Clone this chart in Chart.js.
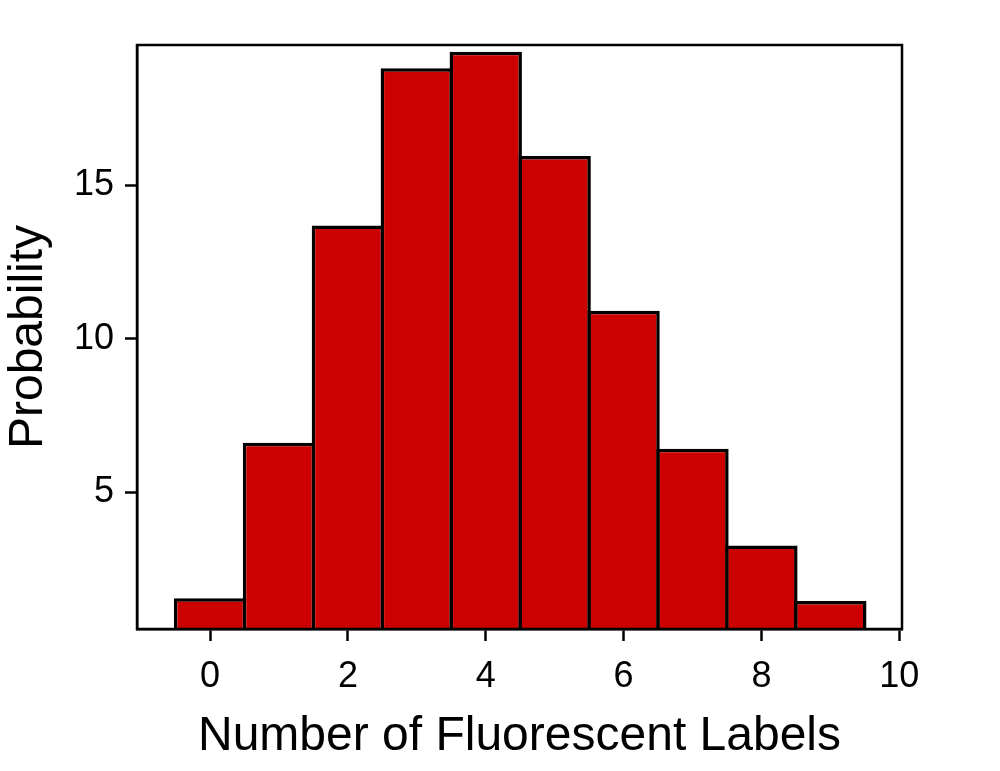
<!DOCTYPE html>
<html>
<head>
<meta charset="utf-8">
<title>Number of Fluorescent Labels</title>
<script src="https://cdn.jsdelivr.net/npm/chart.js@4"></script>
<style>
  html, body { margin: 0; padding: 0; background: #fff; }
  #wrap { width: 1000px; height: 771px; position: relative; }
</style>
</head>
<body>
<div id="wrap"><canvas id="myChart"></canvas></div>
<script>
// Histogram values
const labelCounts = [0, 1, 2, 3, 4, 5, 6, 7, 8, 9];
const probabilities = [1.54, 6.61, 13.69, 18.81, 19.35, 15.95, 10.91, 6.41, 3.26, 1.45];
const xTickValues = [0, 2, 4, 6, 8, 10];
const yTickValues = [5, 10, 15];

const FONT = '"Liberation Sans", Arial, Helvetica, sans-serif';

// Draws the frame round the plot area, over the bar bottoms
const frameBox = {
    id: 'frameBox',
    afterDatasetsDraw(chart) {
        const { ctx, chartArea } = chart;
        ctx.save();
        ctx.strokeStyle = '#000';
        ctx.lineWidth = 2.5;
        ctx.strokeRect(chartArea.left, chartArea.top,
            chartArea.right - chartArea.left, chartArea.bottom - chartArea.top);
        ctx.restore();
    }
};

function plotGraph() {
    const ctx = document.getElementById('myChart').getContext('2d');

    const data = labelCounts.map((x, i) => ({ x: x, y: probabilities[i] }));

    new Chart(ctx, {
        type: 'bar',
        data: {
            datasets: [{
                data: data,
                backgroundColor: '#cc0000',
                borderColor: '#000',
                borderWidth: 3.5,
                borderSkipped: false,
                barPercentage: 1.05,   // overlap borders so shared edges look single
                categoryPercentage: 1
            }]
        },
        plugins: [frameBox],
        options: {
            responsive: true,
            maintainAspectRatio: false,
            animation: false,
            layout: { padding: { top: 45, right: 98, bottom: 0, left: 0 } },
            plugins: {
                legend: { display: false },
                tooltip: { enabled: false }
            },
            scales: {
                x: {
                    type: 'linear',
                    offset: false,
                    min: -1.06,
                    max: 10.04,
                    afterBuildTicks: (scale) => {
                        scale.ticks = xTickValues.map(v => ({ value: v }));
                    },
                    afterFit: (scale) => { scale.height = 142; },
                    grid: {
                        display: true,
                        offset: false,
                        drawOnChartArea: false,
                        drawTicks: true,
                        tickLength: 12,
                        tickWidth: 2.5,
                        tickColor: '#000'
                    },
                    border: { display: true, color: '#000', width: 2.5 },
                    ticks: {
                        color: '#000',
                        font: { family: FONT, size: 36 },
                        padding: 14,
                        maxRotation: 0,
                        autoSkip: false
                    },
                    title: {
                        display: true,
                        text: 'Number of Fluorescent Labels',
                        color: '#000',
                        font: { family: FONT, size: 48 },
                        padding: { top: 0, bottom: 5 }
                    }
                },
                y: {
                    min: 0.54,
                    max: 19.57,
                    afterBuildTicks: (scale) => {
                        scale.ticks = yTickValues.map(v => ({ value: v }));
                    },
                    afterFit: (scale) => { scale.width = 137; },
                    grid: {
                        display: true,
                        drawOnChartArea: false,
                        drawTicks: true,
                        tickLength: 12,
                        tickWidth: 2.5,
                        tickColor: '#000'
                    },
                    border: { display: true, color: '#000', width: 2.5 },
                    ticks: {
                        color: '#000',
                        font: { family: FONT, size: 36 },
                        padding: 11
                    },
                    title: {
                        display: true,
                        text: 'Probability',
                        color: '#000',
                        font: { family: FONT, size: 48 },
                        padding: { top: 0, bottom: 0 }
                    }
                }
            }
        }
    });
}

plotGraph();
</script>
</body>
</html>
